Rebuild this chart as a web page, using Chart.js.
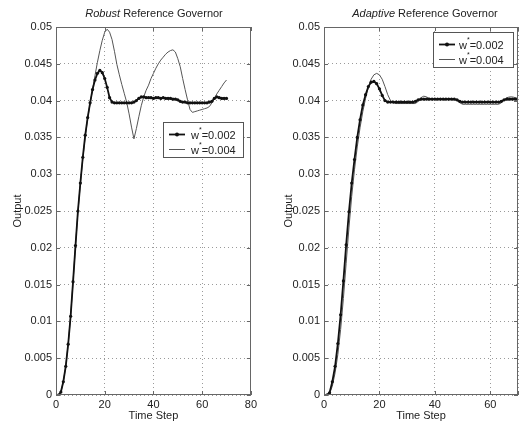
<!DOCTYPE html>
<html><head><meta charset="utf-8">
<script src="https://cdn.jsdelivr.net/npm/chart.js@4"></script>
<style>
html,body{margin:0;padding:0;background:#fff;}
#wrap{position:relative;width:521px;height:425px;overflow:hidden;font-family:"Liberation Sans",Arial,sans-serif;color:#222;}
canvas{position:absolute;top:0;}
.title{position:absolute;top:7px;font-size:11px;line-height:13px;white-space:nowrap;transform:translateX(-50%);}
</style></head><body>
<div id="wrap">
<canvas id="c1" width="260" height="425" style="left:0;width:260px;height:425px"></canvas>
<canvas id="c2" width="261" height="425" style="left:260px;width:261px;height:425px"></canvas>
<div class="title" style="left:154px"><i>Robust</i> Reference Governor</div>
<div class="title" style="left:425px"><i>Adaptive</i> Reference Governor</div>
</div>
<script>
const timeSteps = [0,1,2,3,4,5,6,7,8,9,10,11,12,13,14,15,16,17,18,19,20,21,22,23,24,25,26,27,28,29,30,31,32,33,34,35,36,37,38,39,40,41,42,43,44,45,46,47,48,49,50,51,52,53,54,55,56,57,58,59,60,61,62,63,64,65,66,67,68,69,70];
const seriesLabels = ['w*=0.002', 'w*=0.004'];
const xTicksRobust = [0, 20, 40, 60, 80];
const xTicksAdaptive = [0, 20, 40, 60];
const yTicks = [0, 0.005, 0.01, 0.015, 0.02, 0.025, 0.03, 0.035, 0.04, 0.045, 0.05];

const robust002 = [0,0,0.0004,0.0018,0.0039,0.0069,0.0107,0.0154,0.0203,0.0250,0.0288,0.0323,0.0353,0.0377,0.0397,0.0415,0.0428,0.0437,0.0441,0.0438,0.0430,0.0418,0.0404,0.0398,0.0397,0.0397,0.0397,0.0397,0.0397,0.0397,0.0397,0.0397,0.0398,0.0400,0.0403,0.0405,0.0405,0.0404,0.0404,0.0404,0.0403,0.0404,0.0404,0.0403,0.0404,0.0403,0.0403,0.0403,0.0402,0.0402,0.0401,0.0399,0.0398,0.0398,0.0397,0.0397,0.0397,0.0397,0.0397,0.0397,0.0397,0.0397,0.0397,0.0398,0.0399,0.0403,0.0405,0.0404,0.0403,0.0403,0.0403];
const robust004 = [0,0,0.0004,0.0018,0.0039,0.0069,0.0107,0.0154,0.0203,0.0249,0.0287,0.0321,0.0351,0.0376,0.0396,0.0415,0.0434,0.0452,0.0468,0.0482,0.0493,0.0497,0.0493,0.0483,0.0467,0.0449,0.0435,0.0422,0.0410,0.0398,0.0382,0.0364,0.0348,0.0362,0.0378,0.0393,0.0405,0.0414,0.0421,0.0430,0.0437,0.0444,0.0450,0.0455,0.0459,0.0463,0.0466,0.0468,0.0469,0.0466,0.0457,0.0446,0.0430,0.0415,0.0401,0.0388,0.0384,0.0385,0.0386,0.0387,0.0388,0.0389,0.0390,0.0392,0.0397,0.0403,0.0409,0.0414,0.0419,0.0424,0.0428];
const adaptive002 = [0,0,0.0003,0.0018,0.0039,0.0070,0.0109,0.0155,0.0204,0.0249,0.0288,0.0320,0.0350,0.0374,0.0394,0.0408,0.0419,0.0425,0.0426,0.0423,0.0416,0.0407,0.0400,0.0398,0.0398,0.0398,0.0398,0.0398,0.0398,0.0398,0.0398,0.0398,0.0398,0.0399,0.0401,0.0402,0.0402,0.0402,0.0402,0.0402,0.0402,0.0402,0.0402,0.0402,0.0402,0.0402,0.0402,0.0402,0.0401,0.0399,0.0398,0.0398,0.0398,0.0398,0.0398,0.0398,0.0398,0.0398,0.0398,0.0398,0.0398,0.0398,0.0398,0.0398,0.0399,0.0401,0.0402,0.0402,0.0402,0.0402,0.0402];
const adaptive004 = [0,0,0.0002,0.0012,0.0030,0.0055,0.0089,0.0131,0.0179,0.0227,0.0270,0.0306,0.0337,0.0363,0.0385,0.0403,0.0418,0.0429,0.0435,0.0437,0.0435,0.0429,0.0419,0.0408,0.0400,0.0397,0.0396,0.0396,0.0396,0.0396,0.0396,0.0396,0.0396,0.0396,0.0399,0.0404,0.0406,0.0405,0.0403,0.0402,0.0402,0.0402,0.0402,0.0402,0.0402,0.0402,0.0402,0.0402,0.0400,0.0397,0.0395,0.0395,0.0395,0.0395,0.0395,0.0395,0.0395,0.0395,0.0395,0.0395,0.0395,0.0395,0.0395,0.0395,0.0397,0.0401,0.0404,0.0405,0.0405,0.0404,0.0403];

const FONT = '"Liberation Sans", Arial, sans-serif';
const TXT = '#222';

function toXY(xs, ys){ return xs.map((x,i)=>({x:x, y:ys[i]})); }

const framePlugin = {
  id: 'frameLegend',
  afterDraw(chart, args, opts){
    const ctx = chart.ctx, a = chart.chartArea;
    const xs = chart.scales.x, ys = chart.scales.y;
    ctx.save();
    ctx.strokeStyle = '#666'; ctx.lineWidth = 1;
    ctx.strokeRect(Math.round(a.left)+0.5, Math.round(a.top)+0.5, Math.round(a.right-a.left)-1, Math.round(a.bottom-a.top)-1);
    ctx.beginPath();
    xs.ticks.forEach(t=>{
      const px = Math.round(xs.getPixelForValue(t.value))+0.5;
      ctx.moveTo(px, a.bottom); ctx.lineTo(px, a.bottom-4);
      ctx.moveTo(px, a.top); ctx.lineTo(px, a.top+4);
    });
    ys.ticks.forEach(t=>{
      const py = Math.round(ys.getPixelForValue(t.value))+0.5;
      ctx.moveTo(a.left, py); ctx.lineTo(a.left+4, py);
      ctx.moveTo(a.right, py); ctx.lineTo(a.right-4, py);
    });
    ctx.stroke();
    // legend
    const L = opts;
    ctx.fillStyle = '#fff';
    ctx.fillRect(L.x, L.y, L.w, L.h);
    ctx.strokeStyle = '#555';
    ctx.strokeRect(L.x+0.5, L.y+0.5, L.w, L.h);
    chart.data.datasets.forEach((ds,i)=>{
      const ry = L.y + 12 + i*15 + 0.5;
      ctx.strokeStyle = ds.borderColor; ctx.lineWidth = ds.borderWidth;
      ctx.beginPath(); ctx.moveTo(L.x+6, ry); ctx.lineTo(L.x+22, ry); ctx.stroke();
      if (ds.pointRadius > 0){
        ctx.fillStyle = ds.pointBackgroundColor;
        ctx.beginPath(); ctx.arc(L.x+14, ry, 2, 0, Math.PI*2); ctx.fill();
      }
      const parts = ds.label.split('*');
      ctx.fillStyle = TXT; ctx.textBaseline = 'middle';
      ctx.font = '11px ' + FONT;
      let tx = L.x + L.tx;
      ctx.fillText(parts[0], tx, ry+1);
      tx += ctx.measureText(parts[0]).width;
      ctx.font = '7px ' + FONT;
      ctx.fillText('*', tx, ry-4);
      tx += ctx.measureText('*').width;
      ctx.font = '11px ' + FONT;
      ctx.fillText('=' + parts[1].replace('=',''), tx, ry+1);
    });
    ctx.restore();
  }
};

function makeChart(id, s1, s2, xmax, xTickList, pad, yWidth, legendPos){
  return new Chart(document.getElementById(id), {
    type: 'line',
    data: {
      datasets: [
        {label: seriesLabels[0], data: toXY(timeSteps, s1), borderColor: '#111', borderWidth: 1.8,
         pointRadius: 1.6, pointBackgroundColor: '#111', pointBorderWidth: 0, pointHoverRadius: 0, tension: 0},
        {label: seriesLabels[1], data: toXY(timeSteps, s2), borderColor: '#555', borderWidth: 1,
         pointRadius: 0, pointHoverRadius: 0, tension: 0}
      ]
    },
    options: {
      responsive: false, animation: false, devicePixelRatio: 1,
      layout: {padding: pad},
      plugins: {legend: {display: false}, tooltip: {enabled: false}, title: {display: false},
                frameLegend: legendPos},
      scales: {
        x: {type: 'linear', min: 0, max: xmax,
            afterBuildTicks: sc => { sc.ticks = xTickList.concat(xmax > xTickList[xTickList.length-1] ? [xmax] : []).map(v=>({value:v})); },
            afterFit: sc => { sc.height = 30; },
            ticks: {font: {size: 11, family: FONT}, color: TXT, padding: 3, maxRotation: 0,
                    callback: v => xTickList.includes(v) ? String(v) : ''},
            grid: {color: '#9a9a9a', drawTicks: false, lineWidth: 1},
            border: {display: false, dash: [1, 3]},
            title: {display: true, text: 'Time Step', font: {size: 11, family: FONT}, color: TXT, padding: {top: 4, bottom: 2}}},
        y: {type: 'linear', min: 0, max: 0.05,
            afterBuildTicks: sc => { sc.ticks = yTicks.map(v=>({value:v})); },
            afterFit: sc => { sc.width = yWidth; },
            ticks: {font: {size: 11, family: FONT}, color: TXT, padding: 4,
                    callback: v => String(+Number(v).toFixed(4))},
            grid: {color: '#9a9a9a', drawTicks: false, lineWidth: 1},
            border: {display: false, dash: [1, 3]},
            title: {display: true, text: 'Output', font: {size: 11, family: FONT}, color: TXT, padding: {top: 4, bottom: 4}}}
      }
    },
    plugins: [framePlugin]
  });
}

makeChart('c1', robust002, robust004, 80, xTicksRobust, {left: 7, top: 27, right: 8, bottom: 0}, 49,
          {x: 163, y: 122, w: 80, h: 35, tx: 28});
makeChart('c2', adaptive002, adaptive004, 70, xTicksAdaptive, {left: 18, top: 27, right: 0, bottom: 0}, 46,
          {x: 173, y: 32, w: 80, h: 35, tx: 26});
</script>
</body></html>
